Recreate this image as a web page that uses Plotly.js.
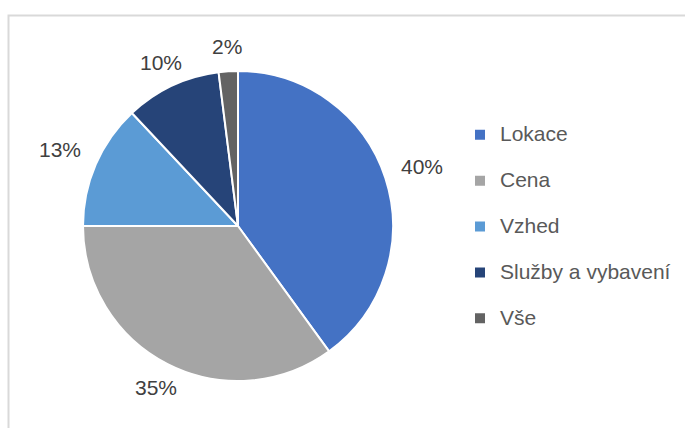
<!DOCTYPE html>
<html>
<head>
<meta charset="utf-8">
<script src="https://cdn.plot.ly/plotly-3.0.1.min.js"></script>
<style>
html,body{margin:0;padding:0;background:#fff;}
#chart{width:685px;height:428px;}
</style>
</head>
<body>
<div id="chart"></div>
<script>
const categories = ['Lokace', 'Cena', 'Vzhed', 'Služby a vybavení', 'Vše'];
const shares = [40, 35, 13, 10, 2];
const colors = ['#4472C4', '#A5A5A5', '#5B9BD5', '#264478', '#636363'];

const W = 685, H = 428;
const cx = 238, cy = 226, r = 155;
const FONT = 'Liberation Sans, Arial, sans-serif';
const LABEL_SIZE = 21;

const trace = {
  type: 'pie',
  labels: categories.map(c => '<span style="font-size:21px">' + c + '</span><br> '),
  values: shares,
  sort: false,
  direction: 'clockwise',
  rotation: 0,
  marker: {colors: colors, line: {color: '#ffffff', width: 2}},
  textinfo: 'none',
  domain: {x: [(cx - r) / W, (cx + r) / W], y: [1 - (cy + r) / H, 1 - (cy - r) / H]},
  hoverinfo: 'label+percent'
};

// percentage labels outside the slices, placed from each slice's mid angle
const total = shares.reduce((a, b) => a + b, 0);
const annotations = [];
let cum = 0;
shares.forEach(v => {
  const mid = (cum + v / 2) / total * 2 * Math.PI;
  cum += v;
  const s = Math.sin(mid), c = Math.cos(mid);
  const halfW = 21, halfH = 9, gap = 16;
  const extent = Math.min(Math.abs(s) > 1e-6 ? halfW / Math.abs(s) : 1e9,
                          Math.abs(c) > 1e-6 ? halfH / Math.abs(c) : 1e9);
  const d = r + gap + extent;
  const px = cx + d * s, py = cy - d * c;
  annotations.push({
    xref: 'paper', yref: 'paper', x: px / W, y: 1 - py / H,
    xanchor: 'center', yanchor: 'middle', showarrow: false,
    text: Math.round(v / total * 100) + '%',
    font: {family: FONT, size: LABEL_SIZE, color: '#404040'}
  });
});

const layout = {
  width: W, height: H,
  margin: {l: 0, r: 0, t: 0, b: 0},
  paper_bgcolor: '#ffffff',
  showlegend: true,
  legend: {
    x: 460 / W, xanchor: 'left',
    y: 1 - 117.5 / H, yanchor: 'top',
    valign: 'top',
    font: {family: FONT, size: 16.5, color: '#595959'},
    bgcolor: 'rgba(0,0,0,0)'
  },
  annotations: annotations,
  shapes: [{
    type: 'rect', xref: 'paper', yref: 'paper',
    x0: 8.5 / W, x1: 1.2, y0: -0.2, y1: 1 - 15.5 / H,
    line: {color: '#d9d9d9', width: 2}, fillcolor: 'rgba(0,0,0,0)', layer: 'below'
  }]
};

Plotly.newPlot('chart', [trace], layout, {displayModeBar: false, staticPlot: true});
</script>
</body>
</html>
